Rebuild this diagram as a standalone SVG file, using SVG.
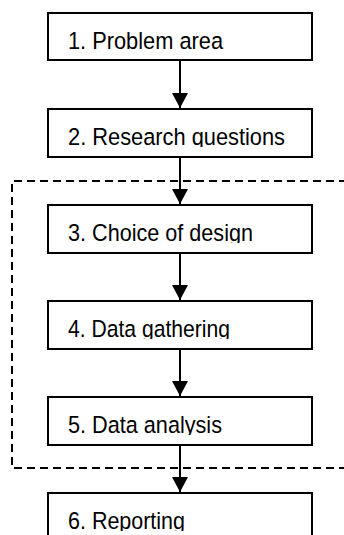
<svg xmlns="http://www.w3.org/2000/svg" width="344" height="535" viewBox="0 0 344 535">
  <style>
    .box { fill: #ffffff; stroke: #000000; stroke-width: 2; }
    .lbl { font-family: "Liberation Sans", Arial, sans-serif; font-size: 24.5px; fill: #000000; }
    .conn { stroke: #000000; stroke-width: 2; fill: none; }
    .dash { stroke: #000000; stroke-width: 2; fill: none; stroke-dasharray: 8 5; }
  </style>
  <defs>
    <marker id="arrow" viewBox="0 0 15 16" refX="15" refY="8" markerWidth="15" markerHeight="16" markerUnits="userSpaceOnUse" orient="auto">
      <path d="M0,0 L15,8 L0,16 z" fill="#000000"/>
    </marker>
    <clipPath id="c1"><rect x="48" y="13" width="264" height="38"/></clipPath>
    <clipPath id="c2"><rect x="48" y="109" width="264" height="38"/></clipPath>
    <clipPath id="c3"><rect x="48" y="205" width="264" height="38"/></clipPath>
    <clipPath id="c4"><rect x="48" y="301" width="264" height="38"/></clipPath>
    <clipPath id="c5"><rect x="48" y="397" width="264" height="38"/></clipPath>
    <clipPath id="c6"><rect x="48" y="493" width="264" height="38"/></clipPath>
  </defs>
  <rect width="344" height="535" fill="#ffffff"/>

  <g id="n1">
    <rect class="box" x="48" y="13" width="264" height="47"/>
    <text class="lbl" x="68" y="49" textLength="155" lengthAdjust="spacingAndGlyphs" clip-path="url(#c1)">1. Problem area</text>
  </g>
  <g id="n2">
    <rect class="box" x="48" y="109" width="264" height="48"/>
    <text class="lbl" x="68" y="145" textLength="217" lengthAdjust="spacingAndGlyphs" clip-path="url(#c2)">2. Research questions</text>
  </g>
  <g id="n3">
    <rect class="box" x="48" y="205" width="264" height="48"/>
    <text class="lbl" x="68" y="241" textLength="185" lengthAdjust="spacingAndGlyphs" clip-path="url(#c3)">3. Choice of design</text>
  </g>
  <g id="n4">
    <rect class="box" x="48" y="301" width="264" height="48"/>
    <text class="lbl" x="68" y="337" textLength="162" lengthAdjust="spacingAndGlyphs" clip-path="url(#c4)">4. Data gathering</text>
  </g>
  <g id="n5">
    <rect class="box" x="48" y="397" width="264" height="48"/>
    <text class="lbl" x="68" y="433" textLength="154" lengthAdjust="spacingAndGlyphs" clip-path="url(#c5)">5. Data analysis</text>
  </g>
  <g id="n6">
    <rect class="box" x="48" y="493" width="264" height="48"/>
    <text class="lbl" x="68" y="529" textLength="117" lengthAdjust="spacingAndGlyphs" clip-path="url(#c6)">6. Reporting</text>
  </g>

  <g id="group-boundary">
    <path class="dash" d="M360,181 H12 V468 H360"/>
  </g>

  <g id="connectors">
    <line class="conn" x1="180" y1="60" x2="180" y2="108" marker-end="url(#arrow)"/>
    <line class="conn" x1="180" y1="157" x2="180" y2="204" marker-end="url(#arrow)"/>
    <line class="conn" x1="180" y1="253" x2="180" y2="300" marker-end="url(#arrow)"/>
    <line class="conn" x1="180" y1="349" x2="180" y2="396" marker-end="url(#arrow)"/>
    <line class="conn" x1="180" y1="445" x2="180" y2="492" marker-end="url(#arrow)"/>
  </g>
</svg>
